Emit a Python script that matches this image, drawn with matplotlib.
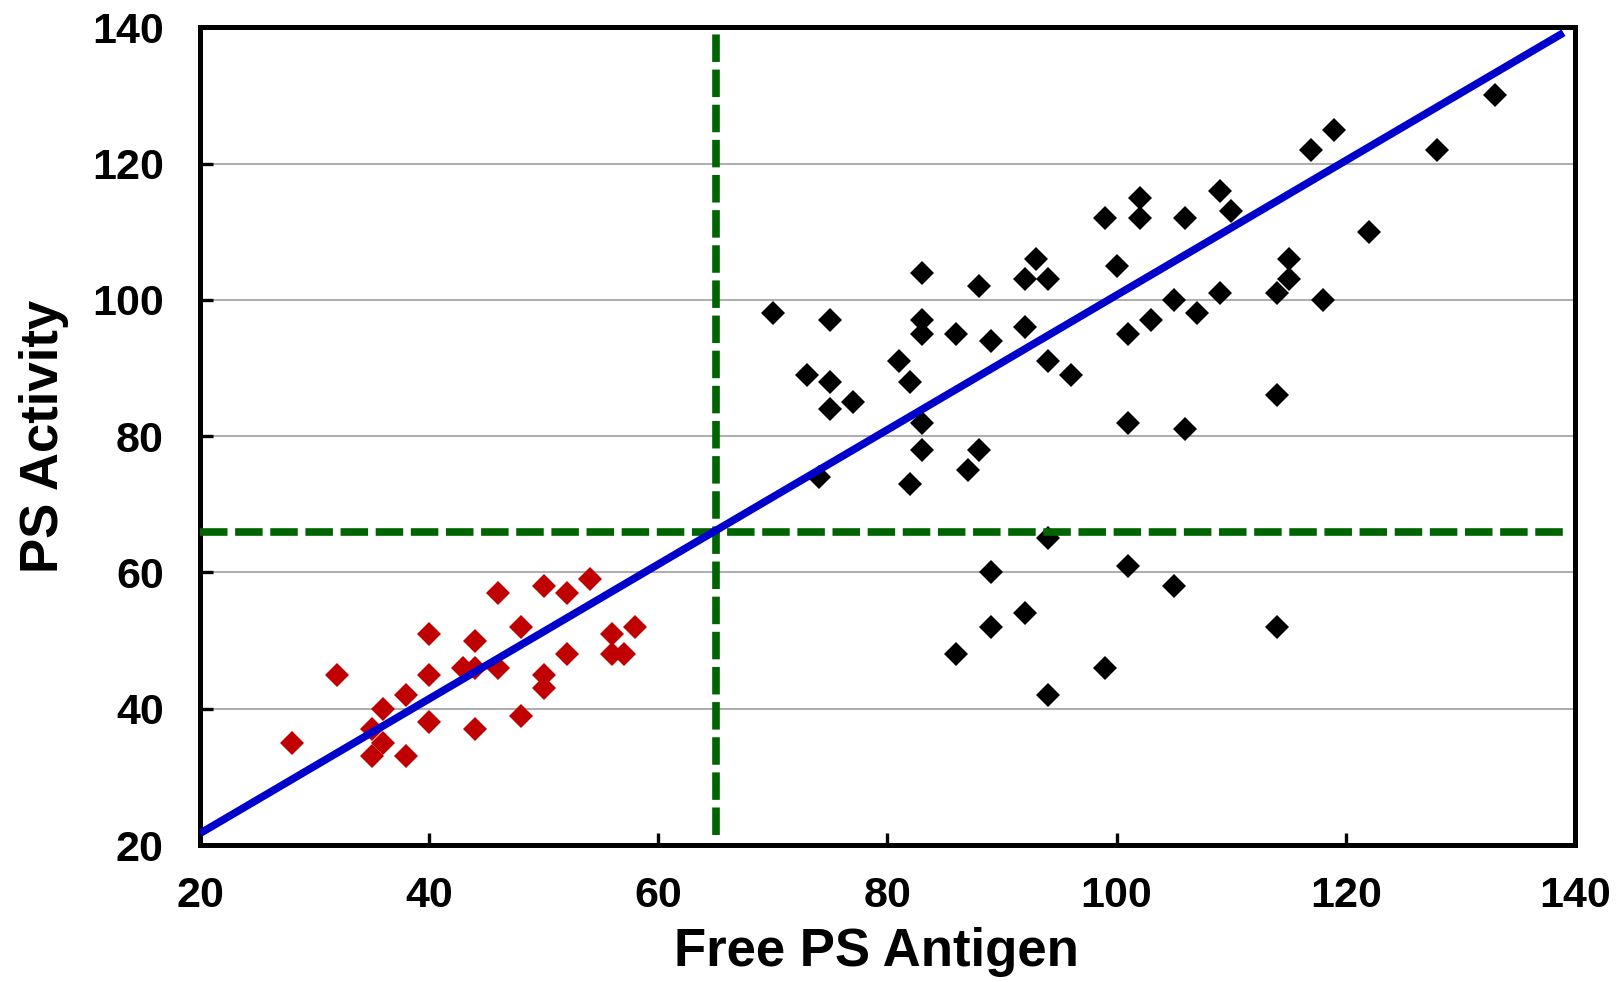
import matplotlib
matplotlib.use('Agg')
import matplotlib.pyplot as plt
from matplotlib import font_manager

# values
red_x = [28, 32, 35, 35, 36, 36, 38, 38, 40, 40, 40, 43, 44, 44, 44,
         46, 46, 48, 48, 50, 50, 50, 52, 52, 54, 56, 56, 57, 58]
red_y = [35, 45, 37, 33, 40, 35, 42, 33, 51, 45, 38, 46, 50, 46, 37,
         57, 46, 52, 39, 58, 45, 43, 57, 48, 59, 51, 48, 48, 52]

black_x = [70, 73, 74, 75, 75, 75, 77,
           81, 82, 82, 83, 83, 83, 83, 83,
           86, 86, 87, 88, 88, 89, 89, 89,
           92, 92, 92, 93, 94, 94, 94, 94, 96,
           99, 99, 100, 101, 101, 101, 102, 102, 103,
           105, 105, 106, 106, 107, 109, 109, 110,
           114, 114, 114, 115, 115, 117, 118, 119, 122, 128, 133]
black_y = [98, 89, 74, 97, 88, 84, 85,
           91, 88, 73, 104, 97, 95, 82, 78,
           95, 48, 75, 102, 78, 94, 60, 52,
           103, 96, 54, 106, 103, 91, 65, 42, 89,
           112, 46, 105, 95, 82, 61, 115, 112, 97,
           100, 58, 112, 81, 98, 116, 101, 113,
           101, 86, 52, 103, 106, 122, 100, 125, 110, 122, 130]

fit_x = [20, 139]
fit_y = [21.7, 139.2]

cut_x = 65
cut_y = 66

ticks = [20, 40, 60, 80, 100, 120, 140]

fig = plt.figure(figsize=(16.19, 9.82), dpi=100)
ax = fig.add_axes([0.1235, 0.1395, 0.8493, 0.8327])

ax.plot(red_x, red_y, 'D', color='#c00000', markersize=12.5, markeredgewidth=0, zorder=3)
ax.plot(black_x, black_y, 'D', color='black', markersize=12.5, markeredgewidth=0, zorder=3)

ax.plot([cut_x, cut_x], [21.5, 139], color='#006400', lw=5.5,
        linestyle=(0, (3.6, 1.0)), zorder=4)
ax.plot([20, 139], [cut_y, cut_y], color='#006400', lw=5.5,
        linestyle=(0, (3.6, 1.0)), zorder=4)
ax.plot(fit_x, fit_y, color='#0000cc', lw=5.5, zorder=5, solid_capstyle='butt')

ax.set_xlim(20, 140)
ax.set_ylim(20, 140)
ax.set_xticks(ticks)
ax.set_yticks(ticks)

ax.yaxis.grid(True, color='#a6a6a6', lw=1.3)
ax.set_axisbelow(True)

for sp in ax.spines.values():
    sp.set_linewidth(3.6)

ax.tick_params(direction='in', length=9, width=2.4, labelsize=31)
ax.tick_params(axis='y', pad=26)
ax.tick_params(axis='x', pad=22)
for lab in ax.get_xticklabels() + ax.get_yticklabels():
    lab.set_fontfamily('Liberation Sans')
    lab.set_fontweight('bold')

ax.set_xlabel('Free PS Antigen', fontsize=38, fontweight='bold', family='Liberation Sans')
narrow = 'Liberation Sans Narrow'
names = {f.name for f in font_manager.fontManager.ttflist}
if narrow in names:
    ax.set_ylabel('PS Activity', fontsize=46, fontweight='bold', family=narrow)
else:
    ax.set_ylabel('PS Activity', fontsize=38, fontweight='bold', family='Liberation Sans')
ax.xaxis.set_label_coords(0.492, -0.100)
ax.yaxis.set_label_coords(-0.095, 0.5)

fig.savefig('out.png', dpi=100)
